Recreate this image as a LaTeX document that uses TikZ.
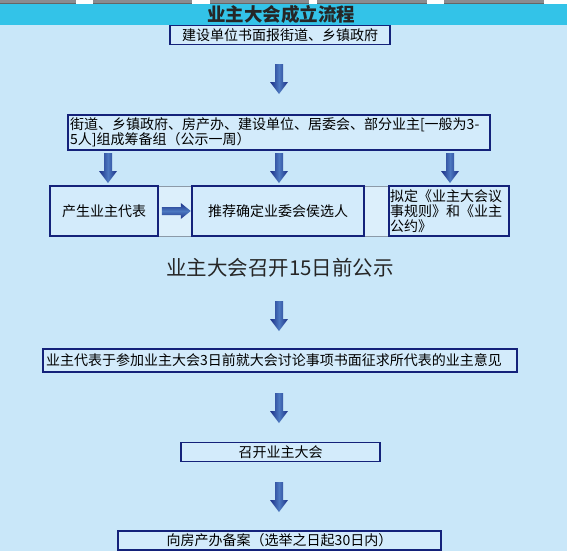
\documentclass[tikz,border=0pt]{standalone}
\usepackage{fontspec}
\setmainfont{Noto Sans CJK SC}
\newfontfamily\cjk{Noto Sans CJK SC}
\begin{document}
\begin{tikzpicture}[x=1pt,y=-1pt,
  box/.style={draw=navy,line width=1.6pt,fill=boxfill,inner sep=1pt,font=\fontsize{14}{15}\selectfont},
  gapcell/.style={draw=gapline,line width=0.6pt,fill=gapfill},
  bar/.style={fill=bargray},
  arrshade/.style={left color=arrdark,right color=arrdark,middle color=arrlight,draw=none}]
\definecolor{bg}{HTML}{C9E7F9}
\definecolor{band}{HTML}{33C3E8}
\definecolor{navy}{HTML}{14227A}
\definecolor{boxfill}{HTML}{D3EBFB}
\definecolor{gapline}{HTML}{8C9AA8}
\definecolor{gapfill}{HTML}{DCEFFB}
\definecolor{bargray}{HTML}{8A8C90}
\definecolor{arrdark}{HTML}{1B2F86}
\definecolor{arrlight}{HTML}{4C78C0}
\useasboundingbox (0,0) rectangle (567,555);
% background
\fill[white] (0,0) rectangle (567,555);
\fill[bg] (0,25) rectangle (567,551);
\fill[band] (0,4) rectangle (567,25);
% top bars
\foreach \a/\b in {0/76,93/192,210/309,317/427,444/544}{
  \fill[bar] (\a,0) rectangle (\b,3.5);
  \fill[black!60] (\a,3) rectangle (\b,3.8);
}
\node[font=\fontsize{18.5}{18.5}\selectfont\bfseries,text=black!85] (title) at (281,14) {业主大会成立流程};
% boxes
\node[box,minimum width=220pt,minimum height=19pt] (b1) at (280,35) {建设单位书面报街道、乡镇政府};
\node[box,minimum width=422pt,minimum height=35pt,text width=418pt,align=left] (b2) at (279,132.5)
  {街道、乡镇政府、房产办、建设单位、居委会、部分业主[一般为3-\\5人]组成筹备组（公示一周）};
\node[gapcell,minimum width=34pt,minimum height=50pt] (g1) at (175,211) {};
\node[gapcell,minimum width=25pt,minimum height=50pt] (g2) at (376.5,211) {};
\node[box,minimum width=108pt,minimum height=50pt] (ba) at (104,211) {产生业主代表};
\node[box,minimum width=172pt,minimum height=50pt] (bb) at (278,211) {推荐确定业委会侯选人};
\node[box,minimum width=120pt,minimum height=50pt,text width=118pt,align=left,inner sep=0.5pt] (bc) at (449,211)
  {拟定《业主大会议\\事规则》和《业主\\公约》};
\node[font=\fontsize{20.5}{21}\selectfont,text=black!85] (pub) at (280,268) {业主大会召开15日前公示};
\node[box,minimum width=474pt,minimum height=23pt,text width=468pt,align=left] (b4) at (280,360.5)
  {业主代表于参加业主大会3日前就大会讨论事项书面征求所代表的业主意见};
\node[box,minimum width=199pt,minimum height=19pt] (b5) at (280.5,452) {召开业主大会};
\node[box,minimum width=323pt,minimum height=19pt] (b6) at (279.5,540.5) {向房产办备案（选举之日起30日内）};
% block arrows (down)
\foreach \nm/\cx/\ty in {a1/279/64,a2/108/153,a3/279/153,a4/450/153,a5/279/301,a6/279/393,a7/279/482}{
  \shade[arrshade] (\cx-4,\ty) -- (\cx+4,\ty) -- (\cx+4,\ty+18) -- (\cx+9,\ty+18) -- (\cx,\ty+30)
     -- (\cx-9,\ty+18) -- (\cx-4,\ty+18) -- cycle;
  \coordinate (\nm) at (\cx,\ty+15);
}
% right arrow between ba and bb
\shade[top color=arrdark,bottom color=arrdark,middle color=arrlight]
  (ba.east) ++(3,-4) -- ++(19,0) -- ++(0,-4) -- ++(10,8) -- ++(-10,8) -- ++(0,-4) -- ++(-19,0) -- cycle;
\end{tikzpicture}
\end{document}
